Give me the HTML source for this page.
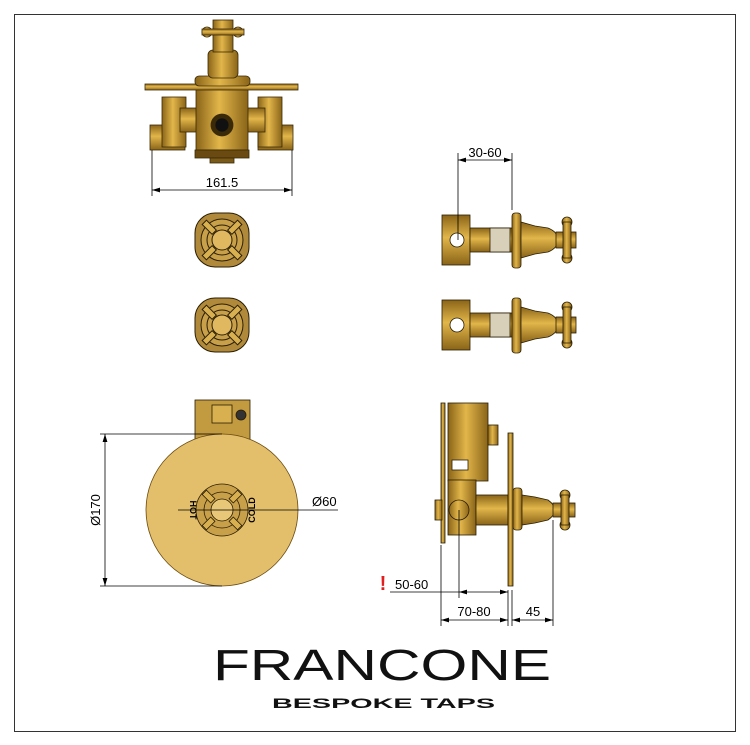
<!DOCTYPE html>
<html><head><style>body{margin:0;background:#fff}svg{display:block}</style></head><body>
<svg width="750" height="745" viewBox="0 0 750 745" xmlns="http://www.w3.org/2000/svg" font-family="Liberation Sans, sans-serif">
<defs>
<linearGradient id="g" x1="0" x2="1"><stop offset="0" stop-color="#8a6418"/><stop offset=".45" stop-color="#e2b64a"/><stop offset="1" stop-color="#8a6418"/></linearGradient>
<linearGradient id="gv" x1="0" y1="0" x2="0" y2="1"><stop offset="0" stop-color="#8a6418"/><stop offset=".45" stop-color="#e2b64a"/><stop offset="1" stop-color="#8a6418"/></linearGradient>
<marker id="a" markerWidth="10" markerHeight="6" refX="10" refY="3" orient="auto-start-reverse"><path d="M0,0 L10,3 L0,6z" fill="#000"/></marker>
</defs>
<rect x="14.5" y="14.5" width="721" height="717" fill="none" stroke="#333"/>
<!-- top view -->
<g stroke="#3a2a08" stroke-width=".8">
<rect x="150" y="125" width="35" height="25" fill="url(#gv)"/>
<rect x="162" y="97" width="24" height="50" fill="url(#g)"/>
<rect x="258" y="125" width="35" height="25" fill="url(#gv)"/>
<rect x="258" y="97" width="24" height="50" fill="url(#g)"/>
<rect x="180" y="108" width="85" height="24" fill="url(#gv)"/>
<rect x="196" y="88" width="52" height="62" fill="url(#g)"/>
<rect x="195" y="150" width="54" height="8" fill="#6a4a10"/>
<rect x="210" y="158" width="24" height="5" fill="#7a5a18"/>
<circle cx="222" cy="125" r="11" fill="#3a2a08"/><circle cx="222" cy="125" r="7" fill="#111"/>
<rect x="145" y="84" width="153" height="6" fill="url(#gv)"/>
<rect x="195" y="76" width="55" height="10" rx="4" fill="url(#g)"/>
<rect x="208" y="50" width="30" height="28" rx="5" fill="url(#g)"/>
<rect x="213" y="20" width="20" height="32" fill="url(#g)"/>
<circle cx="207" cy="32" r="5" fill="url(#g)"/><circle cx="238" cy="32" r="5" fill="url(#g)"/>
<rect x="202" y="29" width="42" height="6" fill="url(#gv)"/>
</g>
<g stroke="#000" stroke-width=".8" fill="none">
<line x1="152" y1="150" x2="152" y2="196"/><line x1="292" y1="150" x2="292" y2="196"/>
<line x1="152" y1="190" x2="292" y2="190" marker-start="url(#a)" marker-end="url(#a)"/>
</g>
<text x="222" y="187" font-size="13" text-anchor="middle">161.5</text>
<!-- small handles -->
<g stroke="#2a1e05" stroke-width="1">
<g transform="translate(222,240)"><rect x="-27" y="-27" width="54" height="54" rx="20" fill="#b08a3a"/><circle r="21" fill="#c9a04a"/><circle r="15" fill="none"/><circle r="10" fill="#e0b860"/>
<g fill="#d8b050"><rect x="-3" y="-25" width="6" height="14" transform="rotate(45)"/><rect x="-3" y="-25" width="6" height="14" transform="rotate(135)"/><rect x="-3" y="-25" width="6" height="14" transform="rotate(225)"/><rect x="-3" y="-25" width="6" height="14" transform="rotate(315)"/></g></g>
<g transform="translate(222,325)"><rect x="-27" y="-27" width="54" height="54" rx="20" fill="#b08a3a"/><circle r="21" fill="#c9a04a"/><circle r="15" fill="none"/><circle r="10" fill="#e0b860"/>
<g fill="#d8b050"><rect x="-3" y="-25" width="6" height="14" transform="rotate(45)"/><rect x="-3" y="-25" width="6" height="14" transform="rotate(135)"/><rect x="-3" y="-25" width="6" height="14" transform="rotate(225)"/><rect x="-3" y="-25" width="6" height="14" transform="rotate(315)"/></g></g>
</g>
<!-- side handles -->
<g stroke="#2a1e05" stroke-width=".8">
<g id="sh"><rect x="442" y="215" width="28" height="50" fill="url(#gv)"/><circle cx="457" cy="240" r="7" fill="#fff"/>
<rect x="470" y="228" width="42" height="24" fill="url(#gv)"/>
<rect x="490" y="228" width="20" height="24" fill="#d8d0b8"/>
<rect x="512" y="213" width="9" height="55" rx="3" fill="url(#g)"/>
<path d="M521,222 L535,226 L548,228 Q558,232 558,240 Q558,248 548,252 L535,254 L521,258z" fill="url(#gv)"/>
<rect x="556" y="232" width="20" height="16" fill="url(#gv)"/>
<circle cx="567" cy="222" r="5" fill="url(#g)"/><circle cx="567" cy="258" r="5" fill="url(#g)"/>
<rect x="563" y="222" width="8" height="36" fill="url(#g)"/></g>
<use href="#sh" y="85"/>
</g>
<g stroke="#000" stroke-width=".8"><line x1="458" y1="153" x2="458" y2="240"/><line x1="512" y1="153" x2="512" y2="210"/>
<line x1="458" y1="160" x2="512" y2="160" marker-start="url(#a)" marker-end="url(#a)"/></g>
<text x="485" y="157" font-size="13" text-anchor="middle">30-60</text>
<!-- front plate -->
<g stroke="#2a1e05" stroke-width=".8">
<rect x="195" y="400" width="55" height="40" fill="#c29a40"/>
<rect x="212" y="405" width="20" height="18" fill="#d8b050"/>
<circle cx="241" cy="415" r="5" fill="#333"/>
<circle cx="222" cy="510" r="76" fill="#e3bf6c" stroke="#6a4a10"/>
<circle cx="222" cy="510" r="26" fill="#c9a04a"/><circle cx="222" cy="510" r="18" fill="none"/><circle cx="222" cy="510" r="11" fill="#e8c878"/>
<g fill="#d8b050" transform="translate(222,510)"><rect x="-3" y="-25" width="6" height="12" transform="rotate(45)"/><rect x="-3" y="-25" width="6" height="12" transform="rotate(135)"/><rect x="-3" y="-25" width="6" height="12" transform="rotate(225)"/><rect x="-3" y="-25" width="6" height="12" transform="rotate(315)"/></g>
</g>
<text x="190" y="510" font-size="9" font-weight="bold" transform="rotate(90 190 510)" text-anchor="middle">HOT</text>
<text x="255" y="510" font-size="9" font-weight="bold" transform="rotate(-90 255 510)" text-anchor="middle">COLD</text>
<g stroke="#000" stroke-width=".8"><line x1="100" y1="434" x2="222" y2="434"/><line x1="100" y1="586" x2="222" y2="586"/>
<line x1="105" y1="434" x2="105" y2="586" marker-start="url(#a)" marker-end="url(#a)"/>
<line x1="178" y1="510" x2="338" y2="510"/></g>
<text x="100" y="510" font-size="13" text-anchor="middle" transform="rotate(-90 100 510)">Ø170</text>
<text x="312" y="506" font-size="13">Ø60</text>
<!-- side view -->
<g stroke="#2a1e05" stroke-width=".8">
<rect x="441" y="403" width="4" height="140" fill="url(#g)"/>
<rect x="448" y="403" width="40" height="78" fill="url(#g)"/>
<rect x="488" y="425" width="10" height="20" fill="url(#g)"/>
<rect x="452" y="460" width="16" height="10" fill="#fff"/>
<rect x="448" y="480" width="28" height="55" fill="url(#g)"/>
<rect x="476" y="495" width="32" height="30" fill="url(#gv)"/>
<rect x="435" y="500" width="7" height="20" fill="url(#g)"/>
<circle cx="459" cy="510" r="10" fill="url(#g)"/>
<rect x="508" y="433" width="5" height="153" fill="url(#g)"/>
<rect x="513" y="488" width="9" height="42" rx="3" fill="url(#g)"/>
<path d="M522,495 L535,497 L548,500 Q555,505 555,510 Q555,515 548,520 L535,523 L522,525z" fill="url(#gv)"/>
<rect x="553" y="503" width="22" height="14" fill="url(#gv)"/>
<circle cx="565" cy="495" r="5" fill="url(#g)"/><circle cx="565" cy="525" r="5" fill="url(#g)"/>
<rect x="561" y="495" width="8" height="30" fill="url(#g)"/>
</g>
<g stroke="#000" stroke-width=".8">
<line x1="441" y1="545" x2="441" y2="626"/><line x1="459" y1="510" x2="459" y2="598"/>
<line x1="508" y1="590" x2="508" y2="626"/><line x1="512" y1="590" x2="512" y2="626"/><line x1="553" y1="520" x2="553" y2="626"/>
<line x1="390" y1="592" x2="459" y2="592"/><line x1="459" y1="592" x2="508" y2="592" marker-start="url(#a)" marker-end="url(#a)"/>
<line x1="441" y1="620" x2="508" y2="620" marker-start="url(#a)" marker-end="url(#a)"/>
<line x1="512" y1="620" x2="553" y2="620" marker-start="url(#a)" marker-end="url(#a)"/>
</g>
<text x="383" y="590" font-size="20" font-weight="bold" fill="#e02020" text-anchor="middle">!</text>
<text x="395" y="589" font-size="13">50-60</text>
<text x="474" y="616" font-size="13" text-anchor="middle">70-80</text>
<text x="533" y="616" font-size="13" text-anchor="middle">45</text>
<!-- logo -->
<text x="213" y="680" font-size="44" textLength="338" lengthAdjust="spacingAndGlyphs" fill="#111">FRANCONE</text>
<text x="272" y="708" font-size="14" font-weight="bold" textLength="223" lengthAdjust="spacingAndGlyphs" fill="#111">BESPOKE TAPS</text>
</svg>
</body></html>
